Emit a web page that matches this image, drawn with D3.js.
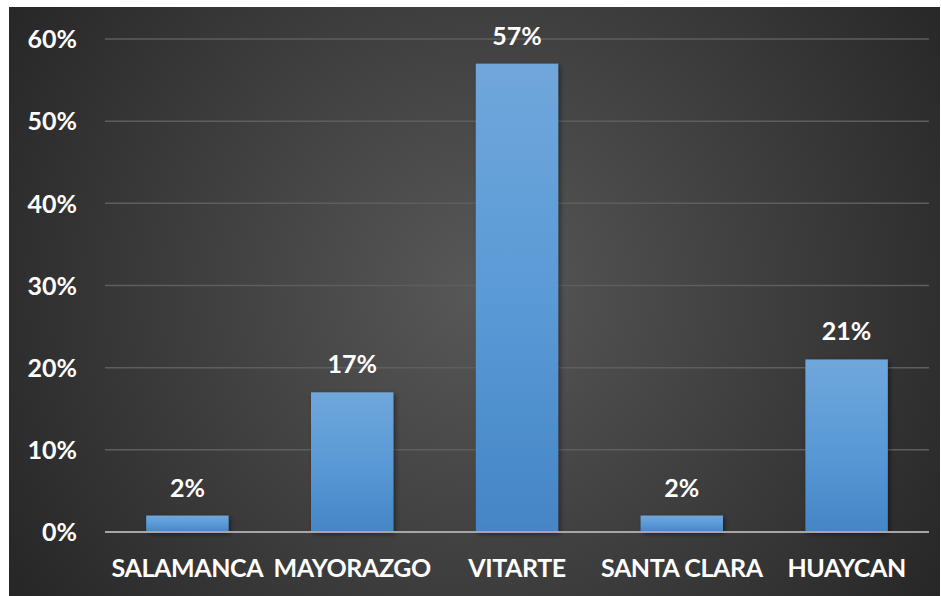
<!DOCTYPE html>
<html><head><meta charset="utf-8">
<script src="https://cdn.jsdelivr.net/npm/d3@7"></script>
<style>html,body{margin:0;padding:0;background:#fff;}svg{display:block;}</style>
</head><body>
<script>
const categories = ["SALAMANCA", "MAYORAZGO", "VITARTE", "SANTA CLARA", "HUAYCAN"];
const values = [0.02, 0.17, 0.57, 0.02, 0.21];
const valueLabels = ["2%", "17%", "57%", "2%", "21%"];
const yTicks = [0, 0.1, 0.2, 0.3, 0.4, 0.5, 0.6];
const yTickLabels = ["0%", "10%", "20%", "30%", "40%", "50%", "60%"];

(function () {
const W = 941, H = 596;
const svg = d3.select("body").append("svg").attr("width", W).attr("height", H);
const defs = svg.append("defs");
const bg = defs.append("radialGradient").attr("id", "bg")
  .attr("gradientUnits", "userSpaceOnUse").attr("cx", 480).attr("cy", 290).attr("r", 560);
bg.append("stop").attr("offset", "0%").attr("stop-color", "#585858");
bg.append("stop").attr("offset", "100%").attr("stop-color", "#262626");
const bar = defs.append("linearGradient").attr("id", "bar").attr("x1", 0).attr("y1", 0).attr("x2", 0).attr("y2", 1);
bar.append("stop").attr("offset", "0%").attr("stop-color", "#70a7db");
bar.append("stop").attr("offset", "50%").attr("stop-color", "#5a9ad6");
bar.append("stop").attr("offset", "100%").attr("stop-color", "#4585c6");
const sh = defs.append("filter").attr("id", "sh").attr("x", "-20%").attr("y", "-20%").attr("width", "150%").attr("height", "150%");
sh.append("feDropShadow").attr("dx", 2).attr("dy", 2).attr("stdDeviation", 2.5).attr("flood-color", "#000").attr("flood-opacity", 0.45);

svg.append("rect").attr("x", 9).attr("y", 7).attr("width", 931).attr("height", 589).attr("fill", "url(#bg)");

const mLeft = 105, mRight = 929, mTop = 39, mBottom = 532;
const x = d3.scaleBand().domain(categories).range([mLeft, mRight]).paddingInner(0.5).paddingOuter(0.25);
const y = d3.scaleLinear().domain([0, 0.6]).range([mBottom, mTop]);

const font = "Lato, 'Open Sans', sans-serif";

svg.append("g").selectAll("line").data(yTicks.filter(d => d > 0)).join("line")
  .attr("x1", mLeft).attr("x2", mRight)
  .attr("y1", d => y(d)).attr("y2", d => y(d))
  .attr("stroke", "#5e5e5e").attr("stroke-width", 1.5);

const yAxis = d3.axisLeft(y).tickValues(yTicks).tickSize(0).tickPadding(0)
  .tickFormat((d, i) => yTickLabels[i]);
const gy = svg.append("g").attr("transform", `translate(77,0)`).call(yAxis);
gy.select(".domain").remove();
gy.selectAll("text").attr("fill", "#fff").style("font-family", font).style("font-weight", 700).style("font-size", "25px").attr("dy", "0.35em");

svg.append("g").selectAll("rect").data(values).join("rect")
  .attr("x", (d, i) => x(categories[i]))
  .attr("width", x.bandwidth())
  .attr("y", d => y(d))
  .attr("height", d => mBottom - y(d))
  .attr("fill", "url(#bar)")
  .attr("filter", "url(#sh)");

svg.append("line").attr("x1", mLeft).attr("x2", mRight).attr("y1", mBottom).attr("y2", mBottom)
  .attr("stroke", "#a6a6a6").attr("stroke-width", 2);

svg.append("g").selectAll("text").data(values).join("text")
  .attr("x", (d, i) => x(categories[i]) + x.bandwidth() / 2)
  .attr("y", d => y(d) - 19)
  .attr("text-anchor", "middle")
  .attr("fill", "#fff").style("font-family", font).style("font-weight", 700).style("font-size", "25px")
  .text((d, i) => valueLabels[i]);

const xAxis = d3.axisBottom(x).tickSize(0).tickPadding(0);
const gx = svg.append("g").attr("transform", `translate(0,${mBottom})`).call(xAxis);
gx.select(".domain").remove();
gx.selectAll("text").attr("fill", "#fff").attr("dy", null).attr("y", 45)
  .style("font-family", font).style("font-weight", 700).style("font-size", "25px")
  .style("letter-spacing", "-0.4px");
})();
</script>
</body></html>
